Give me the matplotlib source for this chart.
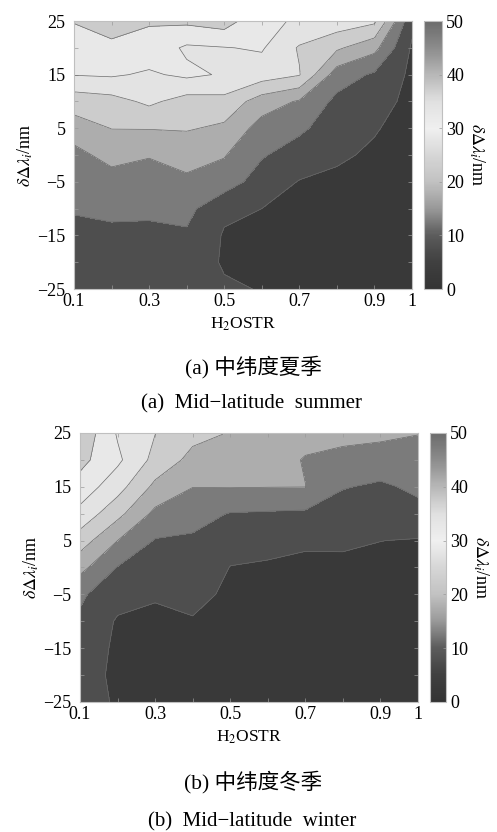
import numpy as np
import matplotlib
matplotlib.use('Agg')
import matplotlib.pyplot as plt
from matplotlib.colors import LinearSegmentedColormap, Normalize
from matplotlib.cm import ScalarMappable

plt.rcParams['font.family'] = ['Liberation Serif', 'Noto Sans CJK SC']
plt.rcParams['mathtext.fontset'] = 'stix'

# grid: H2OSTR (x) and spectral shift (y)
h2ostr = [0.1, 0.2, 0.3, 0.4, 0.5, 0.6, 0.7, 0.8, 0.9, 1.0]
shift = [-25, -20, -15, -10, -5, 0, 5, 10, 15, 20, 25]

# delta-lambda values, one list per H2OSTR column (bottom -> top in shift)
summer_cols = [
    [7, 8, 9, 10.3, 11.8, 13.2, 17.9, 22.1, 30.2, 33, 35.2],
    [8, 8.5, 9.5, 10.5, 12.5, 17, 20.1, 23.2, 30.6, 33.5, 38],
    [8, 8.5, 9.5, 10.4, 11.3, 15.5, 20.2, 26, 29.3, 33, 35.5],
    [7.5, 7.8, 9.3, 11.5, 14.5, 16, 20.5, 23, 31, 29.25, 36],
    [5.6, 4.5, 4.6, 5.9, 12.7, 15.3, 19, 23.5, 29.5, 29.8, 37.4],
    [4.8, 3.8, 4.2, 5.0, 7.5, 10.5, 13, 17.5, 27.5, 30.5, 31],
    [2.5, 2.8, 3.2, 3.8, 4.8, 7.5, 11, 14.5, 25.3, 24.5, 29.5],
    [2.2, 2.4, 2.7, 3.2, 4.2, 5.6, 7.2, 8.8, 12.5, 20.8, 28],
    [1.8, 2, 2.3, 2.8, 3.5, 4.4, 5.3, 6.8, 9.3, 16.5, 26],
    [1.5, 1.7, 2, 2.3, 2.7, 3.1, 3.5, 3.8, 4.0, 4.4, 6.2],
]
winter_cols = [
    [6.5, 7.5, 8.3, 9.2, 10.8, 16.5, 22.5, 28.5, 33, 36.5, 39],
    [4.6, 3.8, 4, 4.5, 6.8, 9.8, 15, 21.5, 27, 31, 29.5],
    [3.5, 3.2, 3.4, 3.9, 5.5, 7.5, 9.7, 13.8, 18.8, 23.5, 25.1],
    [3, 2.8, 3, 4.6, 6.6, 8.2, 9.4, 11.5, 15.1, 18.5, 21.5],
    [2.5, 2.4, 2.6, 3.1, 4, 4.9, 6.5, 9.8, 15.2, 17.5, 19.8],
    [2.2, 2.1, 2.3, 2.7, 3.4, 4.5, 6.3, 9.5, 15.1, 17, 18.5],
    [2, 1.9, 2, 2.4, 3, 4.1, 5.6, 9.2, 15.05, 14.7, 16.5],
    [1.9, 1.8, 1.9, 2.3, 3, 4.3, 5.5, 7.5, 10.3, 13.5, 16.5],
    [1.8, 1.7, 1.8, 2.2, 2.9, 3.8, 5.05, 7, 9.2, 13, 16],
    [1.7, 1.6, 1.7, 2.1, 2.8, 3.6, 4.7, 8.5, 11, 12.5, 15.2],
]

levels = [0, 5, 10, 15, 20, 25, 30, 35, 40, 45, 50]
xticks = [0.1, 0.3, 0.5, 0.7, 0.9, 1.0]
xticklabels = ['0.1', '0.3', '0.5', '0.7', '0.9', '1']
yticks = [-25, -15, -5, 5, 15, 25]
yticklabels = ['\u221225', '\u221215', '\u22125', '5', '15', '25']
cbticks = [0, 10, 20, 30, 40, 50]

# jet-like map printed in grayscale
gray_pos = [0, 5, 10, 15, 20, 25, 30, 35, 40, 45, 50]
gray_val = [0.2, 0.25, 0.36, 0.6, 0.76, 0.84, 0.94, 0.88, 0.72, 0.55, 0.42]
cmap = LinearSegmentedColormap.from_list(
    'jetgray', [(p / 50, (g, g, g)) for p, g in zip(gray_pos, gray_val)])
norm = Normalize(0, 50)

fig = plt.figure(figsize=(4.97, 8.32), dpi=100)

panels = [
    (summer_cols, [0.1489, 0.6526, 0.680, 0.3221], [0.8531, 0.6526, 0.0362, 0.3221],
     '(a) 中纬度夏季', '(a)  Mid\u2212latitude  summer', 0.559, 0.514),
    (winter_cols, [0.1610, 0.1563, 0.680, 0.3233], [0.8652, 0.1563, 0.0322, 0.3233],
     '(b) 中纬度冬季', '(b)  Mid\u2212latitude  winter', 0.060, 0.012),
]

X, Y = np.meshgrid(h2ostr, shift)
for cols, axpos, cbpos, cap_cn, cap_en, ycn, yen in panels:
    Z = np.array(cols).T
    ax = fig.add_axes(axpos)
    ax.contourf(X, Y, Z, levels=levels, cmap=cmap, norm=norm)
    ax.contour(X, Y, Z, levels=levels, colors='#6a6a6a', linewidths=0.5)
    ax.set_xlim(0.1, 1.0)
    ax.set_ylim(-25, 25)
    ax.set_xticks(xticks)
    ax.set_xticklabels(xticklabels)
    ax.set_xticks([0.2, 0.4, 0.6, 0.8], minor=True)
    ax.set_yticks(yticks)
    ax.set_yticklabels(yticklabels)
    ax.set_yticks([-20, -10, 0, 10, 20], minor=True)
    ax.tick_params(which='both', direction='in', top=True, right=True,
                   length=3, width=0.5, color='0.6', labelsize=13)
    ax.tick_params(axis='x', pad=3)
    ax.tick_params(axis='y', pad=6)
    for s in ax.spines.values():
        s.set_color('0.75')
        s.set_linewidth(0.8)
    ax.set_xlabel('H$_2$OSTR', fontsize=12.5, labelpad=4)
    ax.set_ylabel(r'$\delta\Delta\lambda_i$/nm', fontsize=13, labelpad=2)

    cax = fig.add_axes(cbpos)
    cb = fig.colorbar(ScalarMappable(norm=norm, cmap=cmap), cax=cax, ticks=cbticks)
    cb.outline.set_edgecolor('0.75')
    cb.outline.set_linewidth(0.8)
    cax.tick_params(direction='in', length=2, width=0.5, color='0.6',
                    labelsize=13, pad=3)
    cb.set_label(r'$\delta\Delta\lambda_i$/nm', fontsize=13, rotation=270,
                 labelpad=16)

    fig.text(0.51, ycn, cap_cn, ha='center', va='center', fontsize=15.5)
    fig.text(0.507, yen, cap_en, ha='center', va='center', fontsize=15)

fig.savefig('out.png', dpi=100)
